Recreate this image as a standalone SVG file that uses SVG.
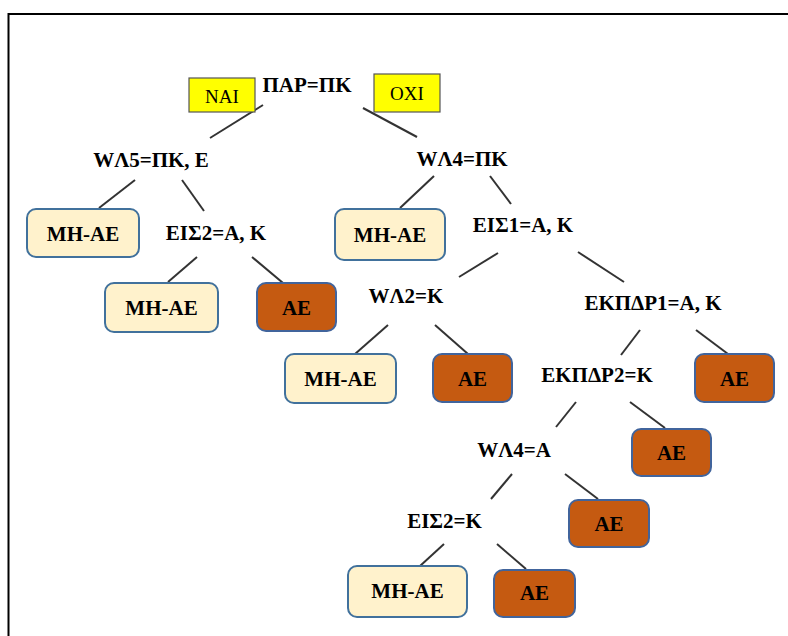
<svg xmlns="http://www.w3.org/2000/svg" width="788" height="636" viewBox="0 0 788 636">
<style>
.lbl{font-family:'Liberation Serif','DejaVu Serif',serif;font-weight:700;font-size:21px;fill:#000;text-anchor:middle}
.yn{font-family:'Liberation Serif','DejaVu Serif',serif;font-size:19px;fill:#000;text-anchor:middle}
.no{fill:#FFF2CC;stroke:#41719C;stroke-width:2}
.yes{fill:#C55A11;stroke:#41649C;stroke-width:2}
.tag{fill:#FFFF00;stroke:#555;stroke-width:1.2}
#connectors line{stroke:#333;stroke-width:2}
</style>
<rect width="788" height="636" fill="#fff"/>
<path d="M8.5 640 V14 H790" fill="none" stroke="#000" stroke-width="2"/>
<g id="connectors">
<line x1="263" y1="105" x2="210" y2="138"/>
<line x1="363" y1="108" x2="417" y2="137"/>
<line x1="135" y1="180" x2="99" y2="208"/>
<line x1="182" y1="180" x2="204" y2="211"/>
<line x1="197" y1="257" x2="168" y2="282"/>
<line x1="252" y1="257" x2="283" y2="283"/>
<line x1="434" y1="176" x2="400" y2="208"/>
<line x1="490" y1="176" x2="511" y2="204"/>
<line x1="498" y1="253" x2="459" y2="277"/>
<line x1="578" y1="252" x2="624" y2="282"/>
<line x1="388" y1="325" x2="355" y2="354"/>
<line x1="435" y1="325" x2="468" y2="354"/>
<line x1="640" y1="330" x2="621" y2="355"/>
<line x1="696" y1="330" x2="728" y2="354"/>
<line x1="576" y1="402" x2="556" y2="427"/>
<line x1="630" y1="402" x2="665" y2="428"/>
<line x1="512" y1="474" x2="491" y2="499"/>
<line x1="565" y1="474" x2="598" y2="499"/>
<line x1="444" y1="544" x2="420" y2="566"/>
<line x1="497" y1="544" x2="526" y2="569"/>
</g>
<g id="tag-nai"><rect class="tag" x="189" y="78" width="66" height="34"/><text class="yn" font-family="Liberation Serif" x="222" y="103">NAI</text></g>
<g id="tag-oxi"><rect class="tag" x="374" y="74" width="66" height="38"/><text class="yn" font-family="Liberation Serif" x="407" y="100">OXI</text></g>
<g id="n-par"><text class="lbl" x="307" y="92">ΠΑΡ=ΠΚ</text></g>
<g id="n-wl5"><text class="lbl" x="151" y="167">WΛ5=ΠΚ, Ε</text></g>
<g id="n-wl4pk"><text class="lbl" x="462" y="166">WΛ4=ΠΚ</text></g>
<g id="leaf1"><rect class="no" x="27" y="209" width="112" height="48" rx="9"/><text class="lbl" x="83" y="241">ΜΗ-ΑΕ</text></g>
<g id="n-eis2ak"><text class="lbl" x="216" y="240">ΕΙΣ2=Α, Κ</text></g>
<g id="leaf2"><rect class="no" x="105" y="283" width="113" height="49" rx="9"/><text class="lbl" x="161.5" y="315">ΜΗ-ΑΕ</text></g>
<g id="leaf3"><rect class="yes" x="257" y="283" width="79" height="48" rx="9"/><text class="lbl" x="296.5" y="315">ΑΕ</text></g>
<g id="leaf4"><rect class="no" x="335" y="209" width="110" height="51" rx="9"/><text class="lbl" x="390" y="242">ΜΗ-ΑΕ</text></g>
<g id="n-eis1"><text class="lbl" x="523" y="232">ΕΙΣ1=Α, Κ</text></g>
<g id="n-wl2"><text class="lbl" x="406" y="303">WΛ2=Κ</text></g>
<g id="n-ekp1"><text class="lbl" x="653" y="310">ΕΚΠΔΡ1=Α, Κ</text></g>
<g id="leaf5"><rect class="no" x="285" y="354" width="111" height="49" rx="9"/><text class="lbl" x="340.5" y="386">ΜΗ-ΑΕ</text></g>
<g id="leaf6"><rect class="yes" x="433" y="354" width="79" height="48" rx="9"/><text class="lbl" x="472.5" y="386">ΑΕ</text></g>
<g id="n-ekp2"><text class="lbl" x="597" y="382">ΕΚΠΔΡ2=Κ</text></g>
<g id="leaf7"><rect class="yes" x="695" y="354" width="79" height="48" rx="9"/><text class="lbl" x="734.5" y="386">ΑΕ</text></g>
<g id="leaf8"><rect class="yes" x="632" y="429" width="79" height="47" rx="9"/><text class="lbl" x="671.5" y="460">ΑΕ</text></g>
<g id="n-wl4a"><text class="lbl" x="514" y="457">WΛ4=Α</text></g>
<g id="leaf9"><rect class="yes" x="569" y="500" width="80" height="47" rx="9"/><text class="lbl" x="609" y="531">ΑΕ</text></g>
<g id="n-eis2k"><text class="lbl" x="444.5" y="528">ΕΙΣ2=Κ</text></g>
<g id="leaf10"><rect class="no" x="348" y="566" width="119" height="51" rx="9"/><text class="lbl" x="407.5" y="598">ΜΗ-ΑΕ</text></g>
<g id="leaf11"><rect class="yes" x="494" y="570" width="81" height="47" rx="9"/><text class="lbl" x="534.5" y="600">ΑΕ</text></g>
</svg>
